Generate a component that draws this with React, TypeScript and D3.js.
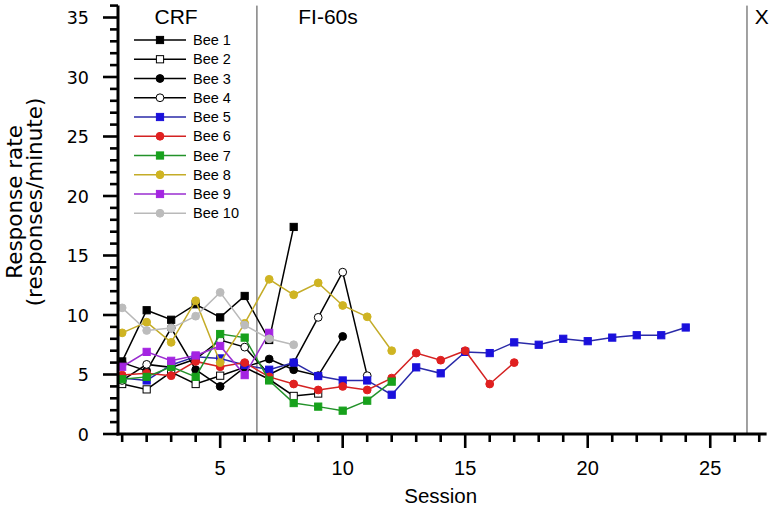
import React from "react";
import * as d3 from "d3";

const bee1 = [6.1, 10.4, 9.6, 10.9, 9.8, 11.6, 7.9, 17.4];
const bee2 = [4.2, 3.75, 5.2, 4.2, 4.9, 5.6, 4.6, 3.2, 3.4];
const bee3 = [6.0, 5.3, 8.9, 5.4, 4.0, 5.6, 6.3, 5.4, 4.9, 8.2];
const bee4 = [4.5, 5.85, 5.6, 6.3, 7.9, 7.3, 5.0, 6.0, 9.8, 13.6, 4.9];
const bee5 = [4.7, 4.5, 5.8, 6.5, 6.35, 5.8, 5.4, 6.0, 4.87, 4.5, 4.5, 3.3, 5.6, 5.1, 6.9, 6.8, 7.7, 7.5, 8.0, 7.8, 8.1, 8.3, 8.3, 8.95];
const bee6 = [4.95, 5.1, 4.9, 6.1, 5.65, 6.0, 4.8, 4.2, 3.7, 4.0, 3.7, 4.7, 6.8, 6.2, 7.0, 4.2, 6.0];
const bee7 = [4.6, 4.8, 5.65, 4.8, 8.4, 8.1, 4.5, 2.6, 2.3, 1.96, 2.8, 4.4];
const bee8 = [8.5, 9.4, 7.7, 11.2, 6.0, 9.3, 13.0, 11.7, 12.7, 10.8, 9.85, 7.0];
const bee9 = [5.65, 6.9, 6.15, 6.6, 7.4, 4.95, 8.5];
const bee10 = [10.6, 8.7, 8.9, 9.9, 11.9, 9.15, 8.0, 7.5];

const beeNames = ["Bee 1", "Bee 2", "Bee 3", "Bee 4", "Bee 5", "Bee 6", "Bee 7", "Bee 8", "Bee 9", "Bee 10"];
const beeValues = [bee1, bee2, bee3, bee4, bee5, bee6, bee7, bee8, bee9, bee10];
const lineColors = ["#000", "#000", "#000", "#000", "#2a2aa8", "#d42222", "#23922a", "#c4ac28", "#9a2ed0", "#b9b9b9"];
const markerColors = ["#000", "#fff", "#000", "#fff", "#1a10dc", "#e02020", "#17a11c", "#cfb422", "#a424e2", "#bcbcbc"];
const markerShapes = ["square", "square", "circle", "circle", "square", "circle", "square", "circle", "square", "circle"];

const yTickLabels = [0, 5, 10, 15, 20, 25, 30, 35];
const xTickLabels = [5, 10, 15, 20, 25];
const phaseLines = [6.5, 26.5];
const phaseLabels = [
  { text: "CRF", x: 3.2 },
  { text: "FI-60s", x: 9.4 },
  { text: "X", x: 27.1 },
];

const W = 775;
const H = 510;

function Marker({ shape, cx, cy, fill, stroke }: any) {
  if (shape === "square") {
    return <rect x={cx - 3.6} y={cy - 3.6} width={7.2} height={7.2} fill={fill} stroke={stroke} strokeWidth={1} />;
  }
  return <circle cx={cx} cy={cy} r={3.9} fill={fill} stroke={stroke} strokeWidth={1} />;
}

export default function App() {
  const x = d3.scaleLinear().domain([0.83, 27.3]).range([118, 766.6]);
  const y = d3.scaleLinear().domain([0, 36]).range([434, 5.6]);
  const line = d3
    .line<number>()
    .x((_, i) => x(i + 1))
    .y((d) => y(d));

  const yMinor = d3.range(0, 37);
  const xMinor = d3.range(1, 28);

  return (
    <svg width={W} height={H} style={{ position: "absolute", left: 0, top: 0, background: "#fff" }}>
      <rect width={W} height={H} fill="#fff" />
      {phaseLines.map((p) => (
        <line key={p} x1={x(p)} x2={x(p)} y1={y(36)} y2={y(0)} stroke="#444" strokeWidth={1} />
      ))}
      {phaseLabels.map((p) => (
        <text key={p.text} x={x(p.x)} y={23.5} textAnchor="middle" fontFamily="Liberation Sans, Arial, sans-serif" fontSize={21}>
          {p.text}
        </text>
      ))}

      {beeValues.map((vals, bi) => (
        <g key={bi}>
          <path d={line(vals) || ""} fill="none" stroke={lineColors[bi]} strokeWidth={1.5} />
          {vals.map((v, i) => (
            <Marker
              key={i}
              shape={markerShapes[bi]}
              cx={x(i + 1)}
              cy={y(v)}
              fill={markerColors[bi]}
              stroke={bi < 4 ? "#000" : markerColors[bi]}
            />
          ))}
        </g>
      ))}

      {beeNames.map((name, i) => {
        const cy = 40 + i * 19.25;
        return (
          <g key={name}>
            <line x1={134} x2={186} y1={cy} y2={cy} stroke={lineColors[i]} strokeWidth={1.5} />
            <Marker shape={markerShapes[i]} cx={160} cy={cy} fill={markerColors[i]} stroke={i < 4 ? "#000" : markerColors[i]} />
            <text x={193} y={cy + 5.2} fontFamily="Liberation Sans, Arial, sans-serif" fontSize={14.5}>
              {name}
            </text>
          </g>
        );
      })}

      <line x1={118} x2={118} y1={y(36)} y2={y(0) + 1.5} stroke="#000" strokeWidth={3} />
      {yMinor.map((t) => {
        const major = t % 5 === 0;
        return (
          <line key={t} x1={major ? 103 : 110} x2={118} y1={y(t)} y2={y(t)} stroke="#000" strokeWidth={2.6} />
        );
      })}
      {yTickLabels.map((t) => (
        <text key={t} x={89} y={y(t) + 6.5} textAnchor="end" fontFamily="DejaVu Sans, sans-serif" fontSize={17.5}>
          {t}
        </text>
      ))}
      <text
        transform={`translate(22,${y(19.5)}) rotate(-90)`}
        textAnchor="middle"
        fontFamily="DejaVu Sans, sans-serif"
        fontSize={21.5}
      >
        Response rate
      </text>
      <text
        transform={`translate(41.5,${y(19.5)}) rotate(-90)`}
        textAnchor="middle"
        fontFamily="DejaVu Sans, sans-serif"
        fontSize={21.5}
      >
        (responses/minute)
      </text>

      <line x1={116.5} x2={x(27.3)} y1={y(0)} y2={y(0)} stroke="#000" strokeWidth={3} />
      {xMinor.map((t) => {
        const major = t % 5 === 0;
        return (
          <line key={t} x1={x(t)} x2={x(t)} y1={y(0)} y2={y(0) + (major ? 14 : 8)} stroke="#000" strokeWidth={2.6} />
        );
      })}
      {xTickLabels.map((t) => (
        <text key={t} x={x(t)} y={475} textAnchor="middle" fontFamily="Liberation Sans, Arial, sans-serif" fontSize={20}>
          {t}
        </text>
      ))}
      <text x={x(14)} y={503} textAnchor="middle" fontFamily="Liberation Sans, Arial, sans-serif" fontSize={20.5}>
        Session
      </text>
    </svg>
  );
}
